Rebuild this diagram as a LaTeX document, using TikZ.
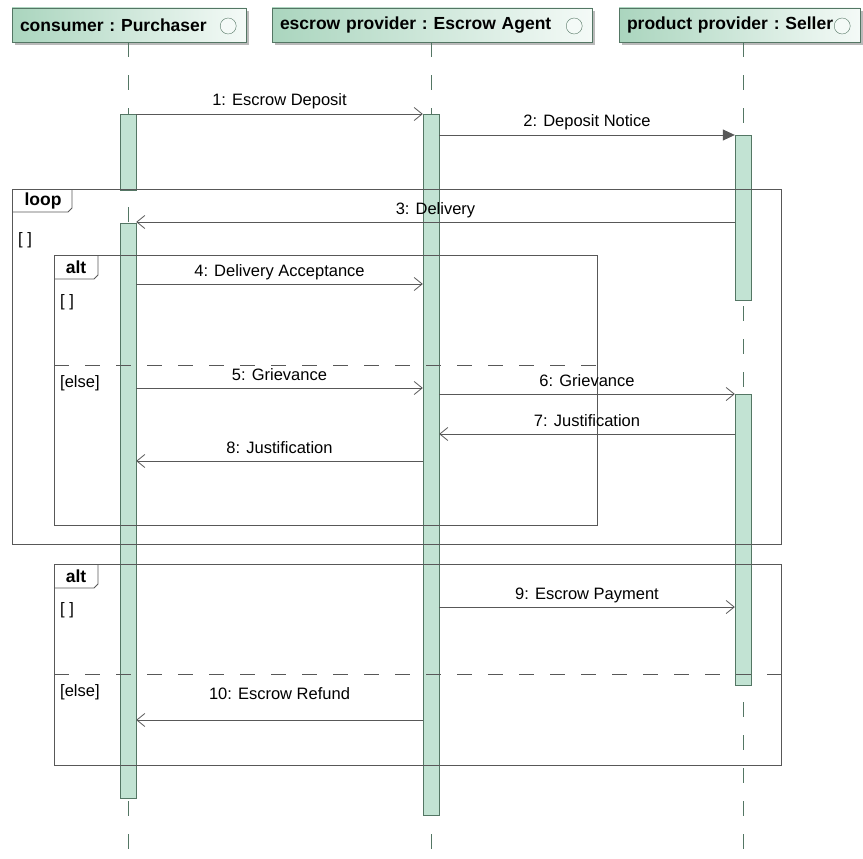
\documentclass[tikz,border=0pt]{standalone}
\usepackage{fontspec}
\setmainfont{Liberation Sans}
\usetikzlibrary{arrows.meta,positioning,shadows}
\definecolor{actfill}{RGB}{194,227,211}
\definecolor{actdraw}{RGB}{84,118,100}
\definecolor{headleft}{RGB}{170,213,190}
\definecolor{headright}{RGB}{244,250,247}
\definecolor{linegray}{RGB}{88,88,88}

\begin{document}
\begin{tikzpicture}[x=1pt,y=-1pt,>={Straight Barb[length=8pt,width=13pt]},
	head/.style={draw=actdraw, left color=headleft, right color=headright, text width=#1, inner xsep=8pt, minimum height=34pt, align=left, font=\fontsize{17.5}{20}\selectfont\bfseries\frenchspacing, drop shadow={shadow xshift=3pt, shadow yshift=-3pt, fill=black!45, opacity=0.6}},
	icon/.style={draw=actdraw, fill=headright},
	act/.style={draw=actdraw, fill=actfill, minimum width=16pt, inner sep=0pt},
	life/.style={draw=actdraw, dash pattern=on 15pt off 18pt},
	msg/.style={draw=linegray, thick},
	sync/.style={msg, -{Triangle[length=12pt,width=11pt]}},
	lbl/.style={midway, anchor=base, yshift=8pt, inner sep=0pt, font=\fontsize{16.5}{19}\selectfont},
	frame/.style={draw=linegray, thick},
	sep/.style={draw=linegray, thick, dash pattern=on 15pt off 16pt},
	tab/.style={font=\fontsize{17.5}{20}\selectfont\bfseries, inner sep=0pt},
	guard/.style={anchor=west, inner sep=0pt, font=\fontsize{16.5}{19}\selectfont}]
	\fill[white] (0,0) rectangle (863,859);
	\useasboundingbox (0,0) rectangle (863,859);

	\node[head=218pt] (H_1) at (129,25) {consumer : Purchaser};
	\node[head=304pt] (H_2) at (432,25) {escrow provider : Escrow Agent};
	\node[head=225pt] (H_3) at (739.5,25) {product provider : Seller};
	\draw[icon] (H_1.east) ++(-18,1) circle (8);
	\draw[icon] (H_2.east) ++(-18,1) circle (8);
	\draw[icon] (H_3.east) ++(-18,1) circle (8);

	\coordinate (E_1) at (128,859);
	\coordinate (E_2) at (431,859);
	\coordinate (E_3) at (743,859);
	\draw[life] (H_1.south -| E_1) -- (E_1);
	\draw[life] (H_2.south -| E_2) -- (E_2);
	\draw[life] (H_3.south -| E_3) -- (E_3);

	\node[act, minimum height=76pt]  (A_1a) at (128,152) {};
	\node[act, minimum height=575pt] (A_1b) at (128,510.5) {};
	\node[act, minimum height=701pt] (A_2)  at (431,464.5) {};
	\node[act, minimum height=165pt] (A_3a) at (743,217.5) {};
	\node[act, minimum height=291pt] (A_3b) at (743,539.5) {};

	\draw[frame] (12,189) rectangle (781,544);
	\draw[frame] (12,212) -- (68,212) -- (72,208) -- (72,189);
	\node[tab] (T_loop) at (43,201) {loop};
	\node[guard] (G_1) at (18,240) {[ ]};

	\draw[frame] (54,255) rectangle (597,525);
	\draw[frame] (54,279) -- (94,279) -- (98,275) -- (98,255);
	\node[tab] (T_alt1) at (76,267) {alt};
	\node[guard] (G_2) at (60,302) {[ ]};
	\draw[sep] (54,365) -- (597,365);
	\node[guard] (G_3) at (60,383) {[else]};

	\draw[frame] (54,564) rectangle (781,765);
	\draw[frame] (54,588) -- (94,588) -- (98,584) -- (98,564);
	\node[tab] (T_alt2) at (76,576) {alt};
	\node[guard] (G_4) at (60,610) {[ ]};
	\draw[sep] (54,674) -- (781,674);
	\node[guard] (G_5) at (60,692) {[else]};

	\draw[msg,->] (A_1a.east |- 0,114) -- (A_2.west |- 0,114) node[lbl] {1: Escrow Deposit};
	\draw[sync] (A_2.east |- 0,135) -- (A_3a.west |- 0,135) node[lbl] {2: Deposit Notice};
	\draw[msg,->] (A_3a.west |- 0,222) -- (A_1b.east |- 0,222) node[lbl] {3: Delivery};
	\draw[msg,->] (A_1b.east |- 0,284) -- (A_2.west |- 0,284) node[lbl] {4: Delivery Acceptance};
	\draw[msg,->] (A_1b.east |- 0,388) -- (A_2.west |- 0,388) node[lbl] {5: Grievance};
	\draw[msg,->] (A_2.east |- 0,394) -- (A_3b.west |- 0,394) node[lbl] {6: Grievance};
	\draw[msg,->] (A_3b.west |- 0,434) -- (A_2.east |- 0,434) node[lbl] {7: Justification};
	\draw[msg,->] (A_2.west |- 0,461) -- (A_1b.east |- 0,461) node[lbl] {8: Justification};
	\draw[msg,->] (A_2.east |- 0,607) -- (A_3b.west |- 0,607) node[lbl] {9: Escrow Payment};
	\draw[msg,->] (A_2.west |- 0,720) -- (A_1b.east |- 0,720) node[lbl, yshift=13pt] {10: Escrow Refund};
\end{tikzpicture}
\end{document}
